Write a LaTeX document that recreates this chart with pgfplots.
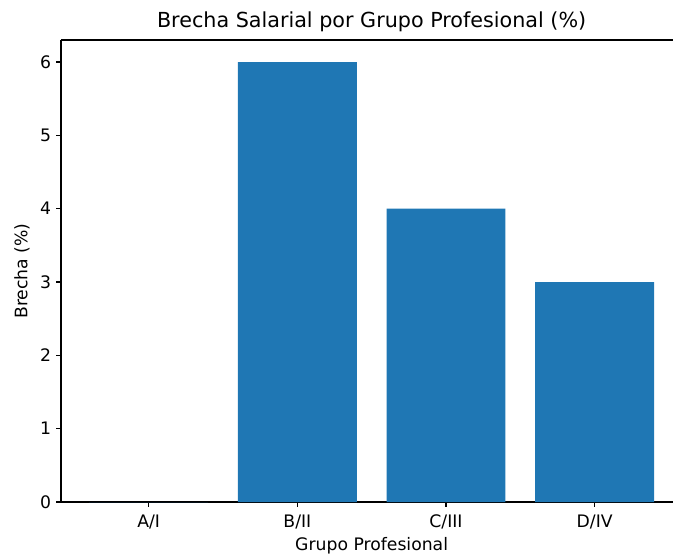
\documentclass[border=0pt]{standalone}
\usepackage{fontspec}
\setmainfont{DejaVu Sans}
\usepackage{pgfplots}
\pgfplotsset{compat=1.18}
\definecolor{mplblue}{HTML}{1F77B4}

\begin{document}
\begin{tikzpicture}
% visible region of the original figure (axes cut at the right edge)
\path[use as bounding box] (-43.9pt,-38.9pt) rectangle (440.6pt,361.4pt);
\begin{axis}[
    at={(0,0)}, anchor=south west,
    scale only axis,
    width=440.6pt, height=332.6pt,
    xmin=-0.59, xmax=3.527,
    ymin=0, ymax=6.3,
    axis x line*=bottom, axis y line*=left,
    axis line style={line width=0.8pt, -},
    tick align=outside, tick style={line width=0.8pt, black},
    major tick length=3.5pt,
    xtick={0,1,2,3},
    xticklabels={A/I, B/II, C/III, D/IV},
    ytick={0,1,2,3,4,5,6},
    font=\fontsize{12.4}{14}\selectfont,
    xticklabel style={yshift=-2pt},
    /pgf/number format/assume math mode=true,
    xlabel={Grupo Profesional},
    ylabel={Brecha (\%)},
    every axis x label/.style={at={(axis description cs:0.5076,0)}, anchor=center, yshift=-31.7pt},
    every axis y label/.style={at={(axis description cs:0,0.5)}, anchor=center, rotate=90, yshift=28pt},
    title={Brecha Salarial por Grupo Profesional (\%)},
    every axis title/.style={at={(axis description cs:0.5076,1)}, anchor=center, yshift=13pt, font=\fontsize{14.9}{17}\selectfont},
    clip=false,
]
\addplot[ybar, bar width=0.8, fill=mplblue, draw=none] coordinates {(0,0) (1,6) (2,4) (3,3)};
\draw[line width=0.8pt] (rel axis cs:0,1) -- (rel axis cs:1,1);
\end{axis}
\end{tikzpicture}
\end{document}
